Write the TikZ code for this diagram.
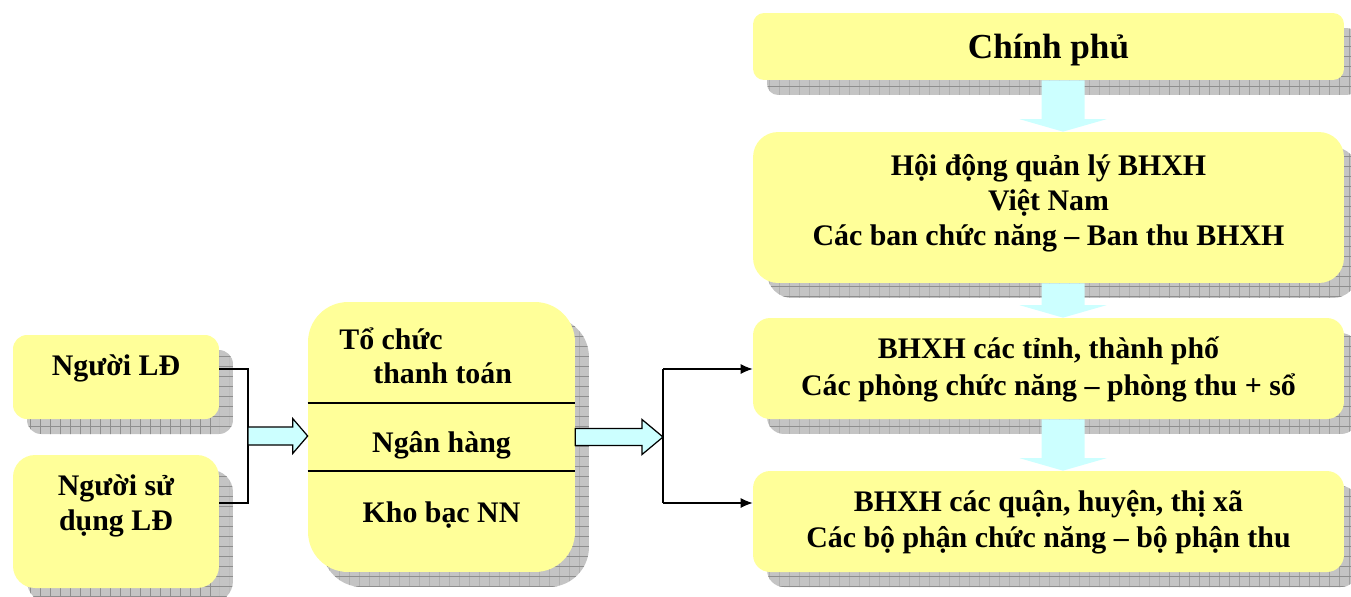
\documentclass[tikz,border=0pt]{standalone}
\usepackage{fontspec}
\setmainfont{Liberation Serif}
\usetikzlibrary{calc}
\usetikzlibrary{shadows}
\usetikzlibrary{patterns.meta}
\usetikzlibrary{arrows.meta}

\definecolor{boxyellow}{HTML}{FFFF99}
\definecolor{arrowcyan}{HTML}{CCFFFF}
\definecolor{shadowgray}{HTML}{C4C4C4}
\definecolor{gridgray}{HTML}{8E8E8E}

\tikzdeclarepattern{
  name=shadowlines,
  type=uncolored,
  bottom left={(-0.1pt,-0.1pt)},
  top right={(5.8pt,5.8pt)},
  tile size={(5.69pt,5.69pt)},
  code={\draw[line width=0.5pt] (0pt,0pt) -- (5.69pt,0pt) (0pt,0pt) -- (0pt,5.69pt);}
}

\tikzset{
  box/.style={fill=boxyellow, inner sep=0pt,
    general shadow={fill=shadowgray, shadow xshift=0.28cm, shadow yshift=-0.3cm},
    general shadow={pattern=shadowlines, pattern color=gridgray, shadow xshift=0.28cm, shadow yshift=-0.3cm}},
  txt/.style={font=\bfseries\fontsize{17}{20.5}\selectfont, inner sep=0pt, anchor=base},
  link/.style={line width=0.7pt},
  blockarrow/.style n args={3}{to path={
    ($(\tikztotarget)!#3!(\tikztostart)$) coordinate (hb)
    ($(\tikztostart)!#1!90:(hb)$) -- ($(hb)!#1!-90:(\tikztostart)$)
    -- ($(hb)!#2!-90:(\tikztostart)$) -- (\tikztotarget)
    -- ($(hb)!#2!90:(\tikztostart)$) -- ($(hb)!#1!90:(\tikztostart)$)
    -- ($(\tikztostart)!#1!-90:(hb)$) -- cycle}},
}

\begin{document}
\begin{tikzpicture}[x=0.02cm, y=-0.02cm]
  \useasboundingbox (0,0) rectangle (1351,596);

  % boxes
  \node[box, rounded corners=0.22cm, minimum width=11.82cm, minimum height=1.34cm] (gov) at (1048.5,46.5) {};
  \node[box, rounded corners=0.5cm, minimum width=11.82cm, minimum height=3.02cm] (council) at (1048.5,207.5) {};
  \node[box, rounded corners=0.34cm, minimum width=11.82cm, minimum height=2.02cm] (prov) at (1048.5,368.5) {};
  \node[box, rounded corners=0.34cm, minimum width=11.82cm, minimum height=2.02cm] (dist) at (1048.5,521.5) {};
  \node[box, rounded corners=0.28cm, minimum width=4.12cm, minimum height=1.68cm] (worker) at (116,377) {};
  \node[box, rounded corners=0.44cm, minimum width=4.12cm, minimum height=2.66cm] (employer) at (116,521.5) {};
  \node[box, rounded corners=0.8cm, minimum width=5.34cm, minimum height=5.4cm] (middle) at (441.5,437) {};
  \draw[link] (middle.west |- 0,403) -- (middle.east |- 0,403);
  \draw[link] (middle.west |- 0,471) -- (middle.east |- 0,471);

  % left side connectors
  \coordinate (jtop) at (248,369);
  \coordinate (jbot) at (248,503);
  \coordinate (jmid) at (248,436);
  \coordinate (ain) at (middle.west |- jmid);
  \draw[link] (worker.east |- jtop) -- (jtop) -- (jbot) -- (employer.east |- jbot);
  \draw[link, fill=arrowcyan] (jmid) to[blockarrow={0.18cm}{0.35cm}{0.3cm}] (ain);

  \coordinate (btop) at (663,369);
  \coordinate (bbot) at (663,503);
  \coordinate (bmid) at (663,437);
  \coordinate (aout) at (middle.east |- bmid);
  \draw[link, fill=arrowcyan] (aout) to[blockarrow={0.17cm}{0.35cm}{0.42cm}] (bmid);
  \draw[link] (btop) -- (bbot);
  \draw[link, -{Latex[length=0.24cm, width=0.2cm]}] (btop) -- (prov.west |- btop);
  \draw[link, -{Latex[length=0.24cm, width=0.2cm]}] (bbot) -- (dist.west |- bbot);

  % down arrows
  \coordinate (axis) at (1063,0);
  \foreach \a/\b in {gov/council, council/prov, prov/dist} {
    \coordinate (s) at (\a.south -| axis);
    \coordinate (t) at (\b.north -| axis);
    \fill[arrowcyan] (s) to[blockarrow={0.43cm}{0.87cm}{0.25cm}] (t);
  }

  % texts
  \node[txt, font=\bfseries\fontsize{20}{24}\selectfont] (govtxt) at (1048.5,58) {Chính phủ};
  \node[txt] (coun1) at (1048.5,175) {Hội động quản lý BHXH};
  \node[txt] (coun2) at (1048.5,210) {Việt Nam};
  \node[txt] (coun3) at (1048.5,245) {Các ban chức năng – Ban thu BHXH};
  \node[txt] (prov1) at (1048.5,358) {BHXH các tỉnh, thành phố};
  \node[txt] (prov2) at (1048.5,395) {Các phòng chức năng – phòng thu + sổ};
  \node[txt] (dist1) at (1048.5,511) {BHXH các quận, huyện, thị xã};
  \node[txt] (dist2) at (1048.5,547) {Các bộ phận chức năng – bộ phận thu};
  \node[txt] (worktxt) at (116,375) {Người LĐ};
  \node[txt] (emp1) at (116,495) {Người sử};
  \node[txt] (emp2) at (116,530) {dụng LĐ};
  \node[txt, anchor=base west] (mid1) at (339,349) {Tổ chức};
  \node[txt, anchor=base west] (mid2) at (373,383) {thanh toán};
  \node[txt] (mid3) at (441.5,452) {Ngân hàng};
  \node[txt] (mid4) at (441.5,522) {Kho bạc NN};
\end{tikzpicture}
\end{document}
